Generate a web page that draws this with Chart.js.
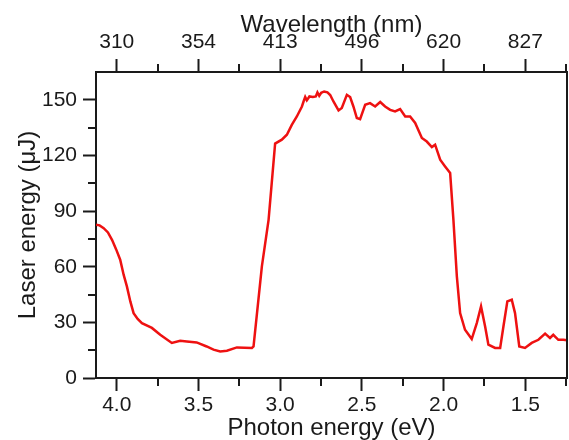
<!DOCTYPE html>
<html>
<head>
<meta charset="utf-8">
<script src="https://cdn.jsdelivr.net/npm/chart.js@4"></script>
<style>
  body { margin: 0; background: #fff; }
  #wrap { width: 569px; height: 440px; position: relative; }
</style>
</head>
<body>
<div id="wrap"><canvas id="laserChart"></canvas></div>
<script>
const photonEnergy = [
  4.127, 4.105, 4.08, 4.054, 4.029, 4.003, 3.979, 3.958, 3.938, 3.917,
  3.897, 3.872, 3.846, 3.785, 3.734, 3.663, 3.612, 3.571, 3.511, 3.45,
  3.408, 3.367, 3.326, 3.265, 3.173, 3.163, 3.112, 3.071, 3.031, 2.99,
  2.959, 2.929, 2.898, 2.867, 2.857, 2.847, 2.837, 2.821, 2.8, 2.782,
  2.772, 2.761, 2.749, 2.731, 2.711, 2.694, 2.674, 2.643, 2.623, 2.592,
  2.572, 2.552, 2.531, 2.511, 2.48, 2.45, 2.419, 2.388, 2.358, 2.327,
  2.297, 2.266, 2.235, 2.205, 2.174, 2.133, 2.103, 2.072, 2.052, 2.021,
  1.991, 1.96, 1.94, 1.919, 1.899, 1.869, 1.828, 1.797, 1.771, 1.746,
  1.726, 1.685, 1.654, 1.634, 1.61, 1.583, 1.563, 1.537, 1.502, 1.461,
  1.42, 1.379, 1.349, 1.329, 1.298, 1.267, 1.245
];

// Laser energy (uJ) at each photon energy
const laserEnergy = [
  82.6, 82.3, 80.8, 78.5, 74.5, 69.2, 63.8, 55.7, 49.4, 41.3,
  35, 31.8, 29.6, 27, 23.3, 18.9, 20.1, 19.7, 19.2, 17,
  15.3, 14.3, 14.7, 16.5, 16.2, 17, 60.2, 85.3, 126.4, 128.5,
  131.2, 136.5, 141, 146.4, 149.1, 151.5, 149.7, 151.8, 151.5, 151.8,
  154, 152.2, 153.8, 154.5, 154, 152.6, 149.1, 144.3, 145.6, 152.7,
  151.5, 146.4, 140.2, 139.6, 147.3, 148.2, 146.4, 148.8, 146.4, 144.6,
  143.7, 145, 141, 141, 137.5, 129.4, 127.5, 124.5, 125.8, 117.7,
  114.1, 110.5, 85.3, 54.8, 35, 26, 21, 29.6, 38.6, 27.8,
  18, 16.2, 16.2, 27.8, 41.3, 42.2, 35, 17, 16.2, 18.9,
  20.6, 23.9, 21.6, 23.3, 20.6, 20.6, 20.3
];

// axis ticks
const energyTicks = [4.0, 3.5, 3.0, 2.5, 2.0, 1.5];
const energyMinorTicks = [3.75, 3.25, 2.75, 2.25, 1.75, 1.25];
const wavelengthLabels = ["310", "354", "413", "496", "620", "827"];
const yTicks = [0, 30, 60, 90, 120, 150];
const yMinorTicks = [15, 45, 75, 105, 135];

const E_MIN = 1.245, E_MAX = 4.127;
const Y_MIN = 0, Y_MAX = 165;

const FONT = "'Liberation Sans', Arial, sans-serif";
const INK = "#1a1a1a";

// short minor ticks + right frame line
const minorTicks = {
  id: "minorTicks",
  afterDraw(chart) {
    const { ctx, chartArea, scales } = chart;
    ctx.save();
    ctx.strokeStyle = INK;
    ctx.lineWidth = 2;
    ctx.beginPath();
    energyMinorTicks.forEach((v) => {
      const px = Math.round(scales.x.getPixelForValue(v));
      ctx.moveTo(px, chartArea.bottom);
      ctx.lineTo(px, chartArea.bottom + 8);
      ctx.moveTo(px, chartArea.top);
      ctx.lineTo(px, chartArea.top - 8);
    });
    yMinorTicks.forEach((v) => {
      const py = Math.round(scales.y.getPixelForValue(v));
      ctx.moveTo(chartArea.left, py);
      ctx.lineTo(chartArea.left - 8, py);
    });
    // right border
    ctx.moveTo(chartArea.right, chartArea.top);
    ctx.lineTo(chartArea.right, chartArea.bottom);
    ctx.stroke();
    ctx.restore();
  },
};

const axisGrid = {
  drawOnChartArea: false,
  drawTicks: true,
  tickLength: 13,
  tickWidth: 2,
  tickColor: INK,
};
const axisBorder = { display: true, color: INK, width: 2 };

new Chart(document.getElementById("laserChart"), {
  type: "line",
  data: {
    datasets: [
      {
        data: photonEnergy.map((e, i) => ({ x: e, y: laserEnergy[i] })),
        borderColor: "#ee1111",
        borderWidth: 2.5,
        pointRadius: 0,
        tension: 0,
        fill: false,
        xAxisID: "x",
        yAxisID: "y",
      },
    ],
  },
  options: {
    responsive: true,
    maintainAspectRatio: false,
    animation: false,
    layout: { padding: { top: 0, right: 2, bottom: 0, left: 0 } },
    plugins: { legend: { display: false }, tooltip: { enabled: false } },
    scales: {
      x: {
        type: "linear",
        position: "bottom",
        reverse: true,
        min: E_MIN,
        max: E_MAX,
        afterBuildTicks: (s) => { s.ticks = energyTicks.map((v) => ({ value: v })); },
        afterFit: (s) => { s.height = 62; },
        grid: axisGrid,
        border: axisBorder,
        ticks: {
          color: INK,
          padding: 2,
          maxRotation: 0,
          font: { family: FONT, size: 21 },
          callback: (v) => v.toFixed(1),
        },
        title: {
          display: true,
          text: "Photon energy (eV)",
          color: INK,
          font: { family: FONT, size: 24, lineHeight: 1 },
          padding: { top: 0, bottom: 0 },
        },
      },
      x2: {
        type: "linear",
        position: "top",
        reverse: true,
        min: E_MIN,
        max: E_MAX,
        afterBuildTicks: (s) => { s.ticks = energyTicks.map((v) => ({ value: v })); },
        afterFit: (s) => { s.height = 72; },
        grid: axisGrid,
        border: axisBorder,
        ticks: {
          color: INK,
          padding: 4,
          maxRotation: 0,
          font: { family: FONT, size: 21 },
          callback: (v) => wavelengthLabels[energyTicks.indexOf(v)],
        },
        title: {
          display: true,
          text: "Wavelength (nm)",
          color: INK,
          font: { family: FONT, size: 24, lineHeight: 1 },
          padding: { top: 13, bottom: 0 },
        },
      },
      y: {
        type: "linear",
        position: "left",
        min: Y_MIN,
        max: Y_MAX,
        afterBuildTicks: (s) => { s.ticks = yTicks.map((v) => ({ value: v })); },
        afterFit: (s) => { s.width = 96; },
        grid: axisGrid,
        border: axisBorder,
        ticks: {
          color: INK,
          padding: 6,
          font: { family: FONT, size: 21 },
        },
        title: {
          display: true,
          text: "Laser energy (\u03bcJ)",
          color: INK,
          font: { family: FONT, size: 24, lineHeight: 1 },
          padding: { top: 16, bottom: 0 },
        },
      },
    },
  },
  plugins: [minorTicks],
});
</script>
</body>
</html>
